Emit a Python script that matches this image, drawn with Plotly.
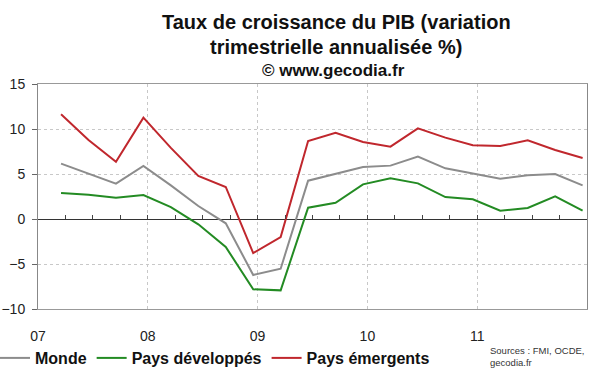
import plotly.graph_objects as go

# Quarterly data 2007 T1 .. 2011 T4
years = [2007, 2008, 2009, 2010, 2011]
quarters = [(y, q) for y in years for q in (1, 2, 3, 4)]
x_pos = [y + q / 4 - 0.04 for (y, q) in quarters]

monde = [6.15, 5.0, 3.93, 5.89, 3.74, 1.44, -0.48, -6.22, -5.52, 4.26,
         5.04, 5.78, 5.93, 6.93, 5.63, 5.04, 4.48, 4.85, 5.0, 3.74]
developpes = [2.89, 2.7, 2.37, 2.67, 1.33, -0.59, -3.11, -7.81, -7.93, 1.26,
              1.81, 3.85, 4.52, 3.96, 2.44, 2.19, 0.93, 1.22, 2.52, 0.93]
emergents = [11.63, 8.78, 6.37, 11.26, 7.9, 4.78, 3.56, -3.78, -2.0, 8.67,
             9.59, 8.56, 8.04, 10.07, 9.04, 8.19, 8.11, 8.74, 7.67, 6.78]

year_ticks = [2007, 2008, 2009, 2010, 2011]
year_labels = ["07", "08", "09", "10", "11"]

series = [
    ("Monde", monde, "#8c8c8c"),
    ("Pays développés", developpes, "#238b23"),
    ("Pays émergents", emergents, "#c0272d"),
]

FONT = "Arial, Liberation Sans, sans-serif"
L, R, T, B = 38, 13, 84, 63
W, H = 600, 372
PW, PH = W - L - R, H - T - B


def px_x(x):
    return (x - L) / PW


def px_y(y):
    return (H - B - y) / PH


fig = go.Figure()
for name, vals, col in series:
    fig.add_trace(go.Scatter(x=x_pos, y=vals, mode="lines", name=name,
                             line=dict(color=col, width=2)))

fig.update_layout(
    width=W, height=H,
    margin=dict(l=L, r=R, t=T, b=B, autoexpand=False),
    paper_bgcolor="white", plot_bgcolor="white",
    font=dict(family=FONT, size=14, color="#222"),
    showlegend=True,
    legend=dict(orientation="h", x=px_x(-5), y=px_y(341), xanchor="left", yanchor="top",
                font=dict(family=FONT, size=16, color="#111", weight="bold"),
                bgcolor="rgba(0,0,0,0)", itemwidth=30, tracegroupgap=0),
    xaxis=dict(range=[2007, 2012], tickvals=year_ticks, ticktext=year_labels,
               showgrid=True, gridcolor="#c8c8c8", griddash="dot", gridwidth=1,
               showline=True, linecolor="#999", mirror=True, ticks="",
               zeroline=False, ticklabelstandoff=14,
               tickfont=dict(size=14, color="#222")),
    xaxis2=dict(range=[2007, 2012], overlaying="x", anchor="free", position=0.4,
                showgrid=False, showline=False, zeroline=False,
                ticks="inside", ticklen=4, tickcolor="#444", tick0=2007, dtick=0.25,
                showticklabels=False),
    yaxis=dict(range=[-10, 15], dtick=5, showgrid=True, gridcolor="#c8c8c8",
               griddash="dot", gridwidth=1, zeroline=True, zerolinecolor="#333",
               zerolinewidth=1, showline=True, linecolor="#888", mirror=True,
               ticks="outside", ticklen=5, tickcolor="#666", ticklabelstandoff=4,
               tickfont=dict(size=14, color="#222")),
)

# invisible trace so the zero-line quarter ticks (xaxis2) are rendered
fig.add_trace(go.Scatter(x=[x_pos[0]], y=[0], xaxis="x2", mode="markers",
                         marker=dict(opacity=0), showlegend=False, hoverinfo="skip"))

title_x = px_x(336)
fig.add_annotation(text="<b>Taux de croissance du PIB (variation</b>", xref="paper", yref="paper",
                   x=title_x, y=px_y(22), yanchor="middle", showarrow=False,
                   font=dict(family=FONT, size=20, color="#111"))
fig.add_annotation(text="<b>trimestrielle annualisée %)</b>", xref="paper", yref="paper",
                   x=title_x, y=px_y(47), yanchor="middle", showarrow=False,
                   font=dict(family=FONT, size=20, color="#111"))
fig.add_annotation(text="<b>© www.gecodia.fr</b>", xref="paper", yref="paper",
                   x=px_x(333), y=px_y(70), yanchor="middle", showarrow=False,
                   font=dict(family=FONT, size=17, color="#111"))
fig.add_annotation(text="Sources : FMI, OCDE,<br>gecodia.fr", xref="paper", yref="paper",
                   x=px_x(488), y=px_y(356), xanchor="left", yanchor="middle",
                   align="left", showarrow=False,
                   font=dict(family=FONT, size=9.5, color="#333"))

fig.write_html("out.html", config={"displayModeBar": False},
               post_script="document.body.style.margin='0';document.body.style.overflow='hidden';")
